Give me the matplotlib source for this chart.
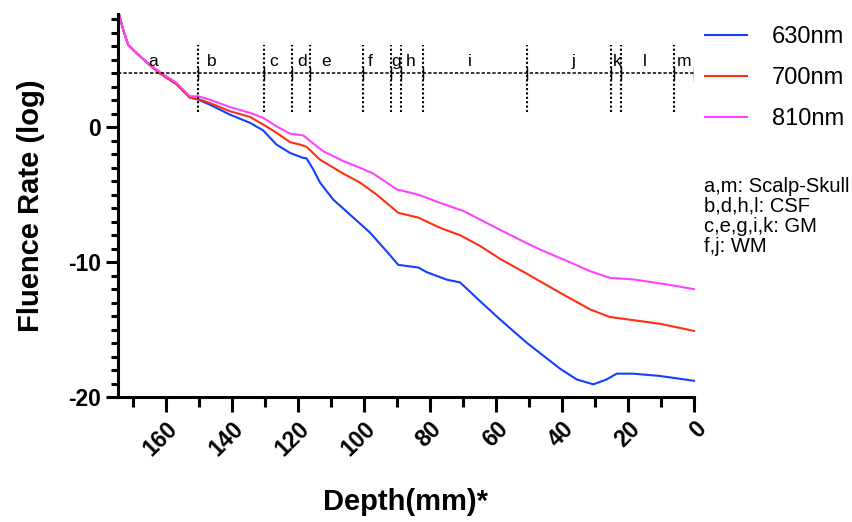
import matplotlib.pyplot as plt
from matplotlib.ticker import MultipleLocator

plt.rcParams['font.family'] = ['Liberation Sans', 'DejaVu Sans']
plt.rcParams['axes.unicode_minus'] = False

# depth (mm) and fluence (log)
d630 = [174.2, 172.9, 171.4, 168.9, 164.8, 161.8, 156.8, 152.7, 150.2, 146.7,
        140.6, 134.5, 130.5, 126.5, 122.4, 118.4, 117.4, 115.4, 113.3, 109.3,
        103.2, 98.2, 93.1, 89.6, 83.5, 81.0, 74.9, 70.9, 65.4, 58.8, 50.7,
        40.6, 35.5, 30.5, 26.5, 23.4, 18.4, 10.3, 0.0]
f630 = [8.4, 7.2, 6.1, 5.5, 4.6, 4.0, 3.2, 2.2, 2.05, 1.68,
        0.94, 0.33, -0.24, -1.28, -1.9, -2.27, -2.3, -3.1, -4.1, -5.36,
        -6.7, -7.8, -9.2, -10.2, -10.4, -10.74, -11.3, -11.5, -12.76, -14.24, -15.97,
        -17.9, -18.7, -19.06, -18.7, -18.27, -18.27, -18.44, -18.8]

d700 = [174.2, 172.9, 171.4, 168.9, 164.8, 161.8, 156.8, 152.7, 150.2, 146.7,
        140.6, 134.5, 130.5, 126.5, 122.4, 119.4, 117.4, 113.3, 106.3, 101.2,
        96.1, 89.6, 83.5, 77.0, 70.9, 64.8, 58.8, 50.7, 40.6, 31.5, 25.5,
        18.4, 10.3, 0.0]
f700 = [8.4, 7.2, 6.1, 5.5, 4.6, 4.0, 3.2, 2.2, 2.1, 1.8,
        1.19, 0.77, 0.2, -0.4, -1.1, -1.28, -1.45, -2.4, -3.43, -4.1,
        -5.0, -6.34, -6.7, -7.45, -8.0, -8.8, -9.75, -10.85, -12.27, -13.5, -14.07,
        -14.3, -14.57, -15.1]

d810 = [174.2, 172.9, 171.4, 168.9, 164.8, 161.8, 156.8, 152.7, 150.2, 146.7,
        140.6, 134.5, 130.5, 126.5, 122.4, 118.4, 116.4, 112.3, 106.3, 101.2,
        97.2, 93.1, 90.1, 83.5, 77.0, 69.9, 64.8, 58.8, 52.7, 46.7, 38.6,
        31.5, 25.5, 18.4, 8.3, 0.0]
f810 = [8.4, 7.2, 6.1, 5.5, 4.65, 4.1, 3.3, 2.3, 2.3, 2.05,
        1.5, 1.07, 0.7, 0.07, -0.47, -0.6, -1.0, -1.78, -2.5, -3.0,
        -3.43, -4.1, -4.6, -5.0, -5.6, -6.2, -6.84, -7.6, -8.35, -9.06, -9.9,
        -10.67, -11.16, -11.28, -11.65, -12.0]

# tissue layer boundaries and their labels
boundaries = [150.4, 130.3, 121.9, 116.2, 100.2, 91.9, 88.8, 82.0, 50.7, 25.2, 22.1, 6.1]
layer_names = ['a', 'b', 'c', 'd', 'e', 'f', 'g', 'h', 'i', 'j', 'k', 'l', 'm']
layer_pos = [163.9, 146.1, 127.3, 118.8, 111.5, 98.2, 90.3, 85.8, 67.9, 36.4, 23.3, 14.8, 3.0]
layer_key = ['a,m: Scalp-Skull', 'b,d,h,l: CSF', 'c,e,g,i,k: GM', 'f,j: WM']

fig = plt.figure(figsize=(8.53, 5.22), dpi=100)
ax = fig.add_axes([118 / 853, 1 - 397 / 522, (694 - 118) / 853, (397 - 14) / 522])

ax.plot(d630, f630, color='#1240ff', lw=1.5, label='630nm', clip_on=False)
ax.plot(d700, f700, color='#ff3010', lw=1.5, label='700nm', clip_on=False)
ax.plot(d810, f810, color='#ff44ff', lw=1.5, label='810nm', clip_on=False)

# layer ruler
ax.plot([174.5, 0], [4, 4], color='black', lw=1.1, ls=(0, (2.2, 1.3)))
ax.plot([0, 0], [3.5, 4.5], color='black', lw=1.0)
for b in boundaries:
    ax.plot([b, b], [1.1, 6.1], color='black', lw=1.5, ls=(0, (1, 1.1)))
    ax.plot([b, b], [3.6, 4.4], color='black', lw=1.0)
for name, p in zip(layer_names, layer_pos):
    ax.text(p, 4.9, name, ha='center', va='center', fontsize=12.5)

ax.set_xlim(174.5, 0)
ax.set_ylim(-20, 8.4)
ax.xaxis.set_major_locator(MultipleLocator(20))
ax.xaxis.set_minor_locator(MultipleLocator(10))
ax.yaxis.set_major_locator(MultipleLocator(10))
ax.yaxis.set_minor_locator(MultipleLocator(1))

for s in ['top', 'right']:
    ax.spines[s].set_visible(False)
for s in ['left', 'bottom']:
    ax.spines[s].set_linewidth(2.2)
ax.tick_params(which='major', width=2.2, length=9, labelsize=16.5)
ax.tick_params(which='minor', width=2.2, length=5)
ax.tick_params(axis='x', which='major', length=11)
ax.tick_params(axis='x', which='minor', length=7)
for lab in ax.get_xticklabels() + ax.get_yticklabels():
    lab.set_fontweight('bold')
for lab in ax.get_xticklabels():
    lab.set_rotation(45)
    lab.set_ha('right')
    lab.set_va('top')
    lab.set_rotation_mode('anchor')

ax.set_xlabel('Depth(mm)*', fontsize=21, fontweight='bold', labelpad=20)
ax.set_ylabel('Fluence Rate (log)', fontsize=21, fontweight='bold', labelpad=16)

ax.legend(loc='upper left', bbox_to_anchor=(696 / 853, 1 - 17 / 522),
          bbox_transform=fig.transFigure, frameon=False, fontsize=17,
          handlelength=1.75, handletextpad=1.05, labelspacing=0.8, borderaxespad=0)

for i, t in enumerate(layer_key):
    fig.text(704 / 853, 1 - (186 + 20 * i) / 522, t, fontsize=14.5, va='center')

fig.savefig('out.png', dpi=100)
